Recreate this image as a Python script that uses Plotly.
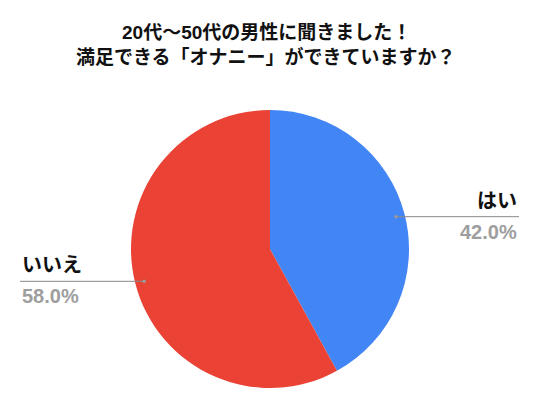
import math
import plotly.graph_objects as go

labels = ["はい", "いいえ"]
values = [42.0, 58.0]
colors = ["#4285F4", "#EA4335"]
title_lines = ["20代～50代の男性に聞きました！", "満足できる「オナニー」ができていますか？"]

OFF = 8  # default page body margin
W, H = 532, 400
mt, mb, ml, mr = 102, 20, 0, 8
plot_w = W - ml - mr
plot_h = H - mt - mb
cx, cy = OFF + ml + plot_w / 2, OFF + mt + plot_h / 2   # page coordinates
R = plot_h / 2

fig = go.Figure(go.Pie(
    labels=labels, values=values, sort=False, direction="clockwise", rotation=0,
    marker=dict(colors=colors, line=dict(width=0)),
    textinfo="none", hoverinfo="label+percent", showlegend=False,
))

def page_to_paper(x, y):
    return (x - OFF - ml) / plot_w, (OFF + H - mb - y) / plot_h

font = "Liberation Sans, Arial, Noto Sans CJK JP, sans-serif"
shapes, annots = [], []
total = sum(values)
cum = 0
for lab, v in zip(labels, values):
    mid = (cum + v / 2) / total
    cum += v
    ang = math.radians(90 - mid * 360)
    ax = cx + 0.935 * R * math.cos(ang)
    ay = cy - 0.935 * R * math.sin(ang)
    right = math.cos(ang) >= 0
    ex = 519 if right else 20
    x0, y0 = page_to_paper(ax, ay)
    x1, _ = page_to_paper(ex, ay)
    shapes.append(dict(type="line", xref="paper", yref="paper", x0=x0, y0=y0, x1=x1, y1=y0,
                       line=dict(color="#8a8a8a", width=1)))
    shapes.append(dict(type="circle", xref="paper", yref="paper",
                       x0=x0 - 1.8 / plot_w, x1=x0 + 1.8 / plot_w, y0=y0 - 1.8 / plot_h, y1=y0 + 1.8 / plot_h,
                       fillcolor="#9a9a9a", line=dict(width=0)))
    xa = "right" if right else "left"
    _, ty = page_to_paper(ex, ay - 16)
    _, py = page_to_paper(ex, ay + 15)
    annots.append(dict(x=x1, y=ty, xref="paper", yref="paper", text=f"<b>{lab}</b>",
                       showarrow=False, xanchor=xa, yanchor="middle",
                       font=dict(family=font, size=20, color="#111111")))
    annots.append(dict(x=x1, y=py, xref="paper", yref="paper", text=f"<b>{v:.1f}%</b>",
                       showarrow=False, xanchor=xa, yanchor="middle",
                       font=dict(family=font, size=20, color="#9e9e9e")))

for i, t in enumerate(title_lines):
    tx, ty = page_to_paper(266, 33 + i * 24)
    annots.append(dict(x=tx, y=ty, xref="paper", yref="paper", text=f"<b>{t}</b>",
                       showarrow=False, xanchor="center", yanchor="middle",
                       font=dict(family=font, size=19, color="#111111")))

fig.update_layout(
    width=W, height=H, margin=dict(l=ml, r=mr, t=mt, b=mb),
    paper_bgcolor="white", plot_bgcolor="white",
    shapes=shapes, annotations=annots,
)
fig.write_html("out.html")
